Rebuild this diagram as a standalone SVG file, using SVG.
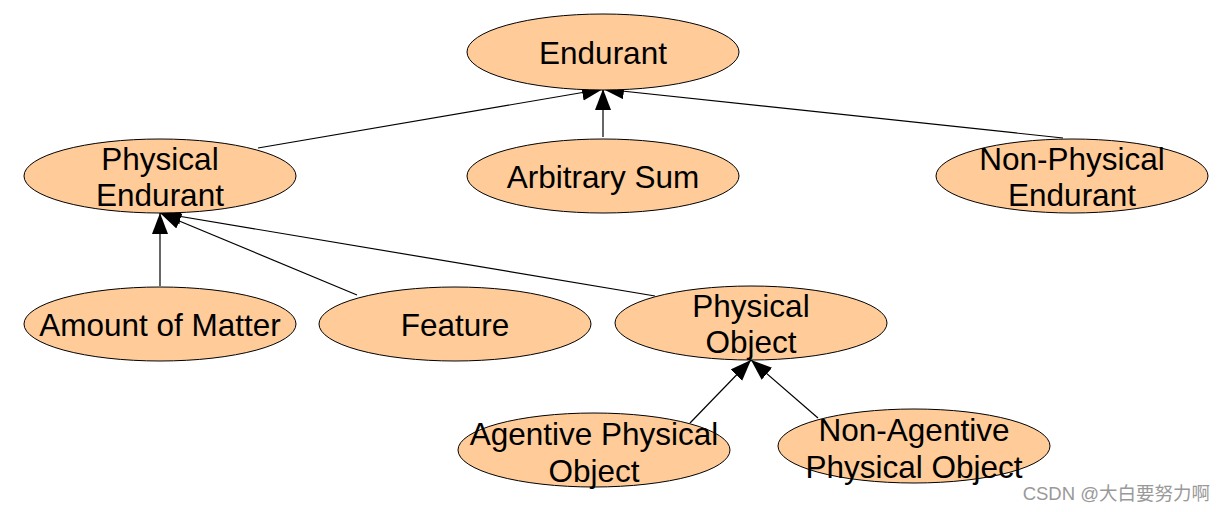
<svg xmlns="http://www.w3.org/2000/svg" width="1226" height="512" viewBox="0 0 1226 512">
<style>
.n ellipse{fill:#ffcc99;stroke:#000;stroke-width:1}
.n text{font-family:"Liberation Sans",Arial,sans-serif;font-size:31.5px;fill:#000;text-anchor:middle}
.c line{stroke:#000;stroke-width:1.2;marker-end:url(#ah)}
</style>
<defs>
<marker id="ah" markerUnits="userSpaceOnUse" markerWidth="22" markerHeight="18" refX="21" refY="8" orient="auto">
<path d="M0,0 L21,8 L0,16 Z" fill="#000"/>
</marker>
</defs>
<rect width="1226" height="512" fill="#fff"/>
<g class="c">
<line x1="258" y1="148" x2="603" y2="89"/>
<line x1="603" y1="137" x2="603" y2="89"/>
<line x1="1063" y1="138" x2="603" y2="89"/>
<line x1="160" y1="286" x2="160" y2="213"/>
<line x1="357" y1="295" x2="160" y2="213"/>
<line x1="655" y1="296" x2="160" y2="213"/>
<line x1="690" y1="423" x2="751" y2="360"/>
<line x1="818" y1="418" x2="751" y2="360"/>
</g>
<g class="n" id="endurant"><ellipse cx="603" cy="52" rx="136" ry="38"/><text x="603" y="64">Endurant</text></g>
<g class="n" id="physical-endurant"><ellipse cx="160" cy="176" rx="136" ry="37"/><text x="160" y="170">Physical</text><text x="160" y="206">Endurant</text></g>
<g class="n" id="arbitrary-sum"><ellipse cx="603" cy="176" rx="136" ry="37"/><text x="603" y="188">Arbitrary Sum</text></g>
<g class="n" id="non-physical-endurant"><ellipse cx="1072" cy="176" rx="136" ry="37"/><text x="1072" y="170">Non-Physical</text><text x="1072" y="206">Endurant</text></g>
<g class="n" id="amount-of-matter"><ellipse cx="160" cy="324" rx="136" ry="37"/><text x="160" y="336">Amount of Matter</text></g>
<g class="n" id="feature"><ellipse cx="455" cy="324" rx="136" ry="37"/><text x="455" y="336">Feature</text></g>
<g class="n" id="physical-object"><ellipse cx="751" cy="323" rx="136" ry="37"/><text x="751" y="317">Physical</text><text x="751" y="353">Object</text></g>
<g class="n" id="agentive-physical-object"><ellipse cx="594" cy="450" rx="136" ry="37"/><text x="594" y="445">Agentive Physical</text><text x="594" y="482">Object</text></g>
<g class="n" id="non-agentive-physical-object"><ellipse cx="914" cy="446" rx="136" ry="37"/><text x="914" y="441">Non-Agentive</text><text x="914" y="478">Physical Object</text></g>
<text x="1210" y="500" text-anchor="end" font-family="'Liberation Sans','Noto Sans CJK SC',sans-serif" font-size="18.5" fill="#999">CSDN @大白要努力啊</text>
</svg>
